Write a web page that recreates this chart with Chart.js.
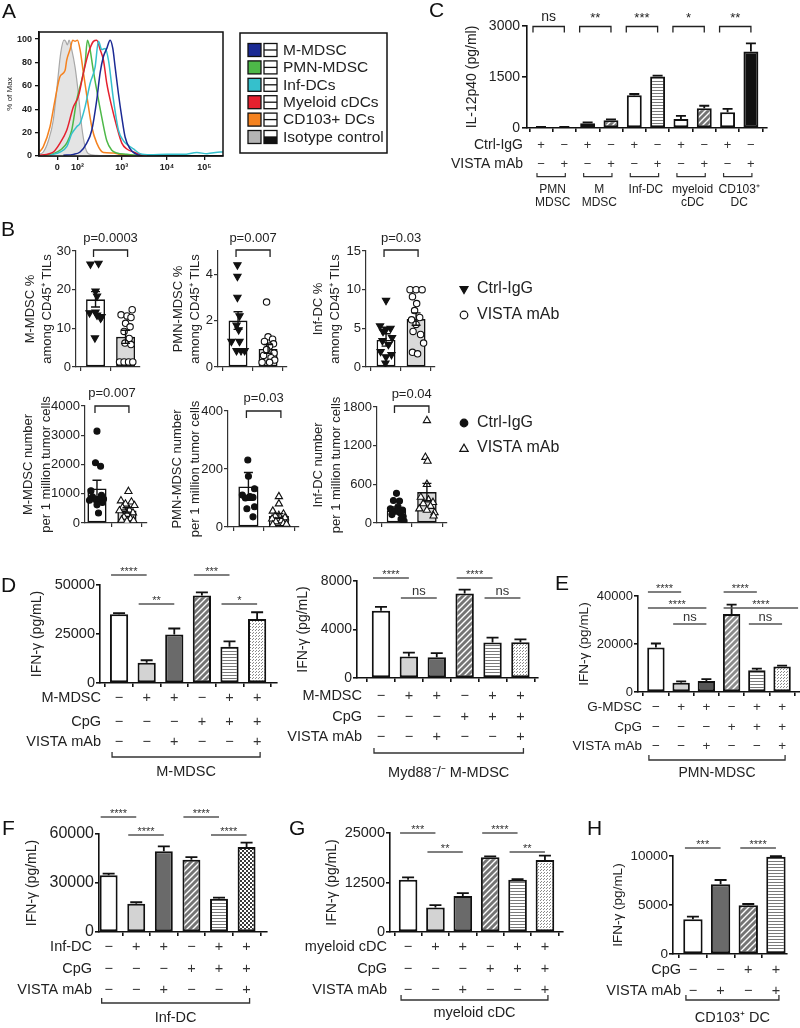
<!DOCTYPE html>
<html><head><meta charset="utf-8">
<script src="https://cdn.jsdelivr.net/npm/chart.js@4/dist/chart.umd.min.js"></script>
<style>
html,body{margin:0;padding:0;background:#fff;}
#wrap{position:relative;width:800px;height:1028px;overflow:hidden;background:#fff;}
#wrap canvas{position:absolute;left:0;top:0;}
</style></head><body><div id="wrap"></div>
<script>
// ================= DATA =================
// Panel A: histogram (channel units vs % of max)
const aTickVals = [55, 115, 248, 383, 495];
const aTickLabels = ['0', '10²', '10³', '10⁴', '10⁵'];
const aYTicks = [0, 20, 40, 60, 80, 100];
const isoX = [0,13,28,43,55,65,75,80,85,90,98,108,118,128,138,148,173,250];
const isoY = [1.4,3.4,13,31,62,88,99,98,95,99,91,76,53,25,8,2,0.5,0];
const cd103X = [0,13,33,48,63,78,83,93,101,108,115,123,133,145,158,173,193,223,243,273,303];
const cd103Y = [3,8,25,48,68,73,82,91,99,98,99,91,71,48,25,11,3,2.6,1.4,0.6,0];
const pmnX = [13,43,68,83,98,113,128,138,145,153,161,173,188,203,218,233,263,303];
const pmnY = [0.6,2,6,11,22,48,65,79,99,91,76,56,33,13,5,2.6,1.4,0.3];
const myeX = [0,23,43,63,83,103,118,133,148,163,173,183,193,203,218,233,248,263,283,303,323];
const myeY = [0.6,1.4,3.4,11,22,42,51,71,88,98,99,91,82,62,42,25,11,6,3.4,1.4,0.3];
const infX = [33,63,83,98,113,123,138,153,168,178,188,198,208,223,238,253,268,283,303,333,383,433,473,503,543,551];
const infY = [0.6,3.4,8,19,25,28,42,62,76,98,91,92,82,48,22,13,9,6,2,1.1,1.4,1.4,2.9,2,3.4,3.4];
const mmdX = [73,103,123,143,158,173,183,193,203,213,221,228,238,248,258,273,288,303];
const mmdY = [0.6,1.4,3.4,11,22,48,71,85,92,99,92,76,53,33,16,6,2,0.3];
const aLegNames = ['M-MDSC','PMN-MDSC','Inf-DCs','Myeloid cDCs','CD103+ DCs','Isotype control'];
const aLegColors = ['#1b2a94','#4db848','#35c0cc','#e5202e','#f5821f','#b4b4b4'];

// Panel C
const cYTicks = [0, 1500, 3000];
const cMeans = [25, 25, 140, 225, 960, 1515, 265, 580, 465, 2250];
const cErrTop = [35, 35, 165, 255, 1000, 1540, 355, 655, 565, 2490];
const cCtrl = ['+','−','+','−','+','−','+','−','+','−'];
const cVista = ['−','+','−','+','−','+','−','+','−','+'];
const cGroups = [['PMN','MDSC'],['M','MDSC'],['Inf-DC'],['myeloid','cDC'],['CD103⁺','DC']];
const cSig = ['ns','**','***','*','**'];

// Panel B
const bCtrlLabel = 'Ctrl-IgG', bVistaLabel = 'VISTA mAb';
const b1Means = [17.5, 7.8], b1Tops = [19.5, 9.5], b1YTicks = [0,10,20,30];
const b1Ctrl = [26.6,26.8,19.6,18.3,14.0,14.2,13.0,13.4,12.6,7.5];
const b1CtrlX = [-0.17,0.1,0.0,0.05,-0.2,0.0,0.2,0.05,0.17,-0.02];
const b1Vista = [14.8,13.5,13.2,12.8,11.3,10.4,9.2,7.4,6.2,5.8,1.3,1.3,1.3,1.3];
const b1VistaX = [0.22,-0.15,0.05,0.18,0.0,0.15,-0.05,0.12,-0.02,0.18,-0.2,-0.05,0.1,0.24];
const b2Means = [2.0, 0.78], b2Tops = [2.38, 0.97], b2YTicks = [0,2,4];
const b2Ctrl = [4.4,3.9,3.0,2.2,1.8,1.6,1.1,1.1,0.7,0.7,0.7];
const b2CtrlX = [-0.02,-0.02,-0.02,0.05,-0.05,0.02,-0.22,0.05,-0.05,0.1,0.22];
const b2Vista = [2.8,1.3,1.2,1.1,1.0,0.9,0.75,0.6,0.5,0.4,0.3,0.2,0.2];
const b2VistaX = [-0.05,0.0,0.15,-0.12,0.18,0.05,-0.05,0.2,-0.15,0.1,0.22,-0.2,0.05];
const b3Means = [3.5, 6.2], b3Tops = [4.3, 7.0], b3YTicks = [0,5,10,15];
const b3Ctrl = [8.6,5.3,5.0,4.9,4.6,3.8,3.4,2.9,2.0,1.6,1.3,0.5];
const b3CtrlX = [0.0,-0.2,0.15,0.0,-0.1,0.2,-0.12,0.08,-0.18,0.18,0.0,-0.02];
const b3Vista = [10,10,10,9.1,8.2,7.3,6.4,6.1,5.5,4.6,4.2,3.1,1.9,1.7];
const b3VistaX = [-0.2,0.0,0.2,-0.12,0.02,-0.05,0.12,-0.15,0.0,-0.1,0.15,0.25,-0.12,0.05];
const b4Means = [1180, 430], b4Tops = [1460, 520], b4YTicks = [0,1000,2000,3000,4000];
const b4Ctrl = [3140,2060,1940,1100,950,900,820,800,800,780,700,620,340];
const b4CtrlX = [0.0,-0.05,0.12,-0.2,0.15,-0.15,0.22,-0.05,0.08,-0.25,0.18,0.0,0.05];
const b4Vista = [1080,760,720,650,600,520,450,420,350,300,200,150,100,80,60];
const b4VistaX = [0.05,-0.2,0.15,-0.05,0.25,-0.15,0.08,-0.25,0.2,0.0,-0.1,0.12,-0.18,0.22,0.0];
const b5Means = [140, 38], b5Tops = [188, 46], b5YTicks = [0,200,400];
const b5Ctrl = [231,175,132,110,105,102,100,70,63,35];
const b5CtrlX = [-0.02,0.0,0.2,-0.2,0.05,0.15,-0.1,0.2,-0.05,0.15];
const b5Vista = [105,80,55,45,40,38,32,28,22,18,12,10,8];
const b5VistaX = [0.0,0.0,-0.2,0.15,0.0,-0.12,0.2,-0.22,0.08,-0.1,0.15,0.25,-0.2];
const b6Means = [195, 480], b6Tops = [250, 615], b6YTicks = [0,600,1200,1800];
const b6Ctrl = [460,350,340,250,220,200,190,160,130,100,60,30];
const b6CtrlX = [0.0,-0.1,0.1,0.05,-0.2,0.2,-0.05,0.12,-0.15,0.22,0.15,0.25];
const b6Vista = [1590,1020,960,600,400,360,320,300,260,220,200,160,110];
const b6VistaX = [0.0,-0.05,0.02,0.0,-0.2,0.05,0.2,-0.12,0.12,-0.25,0.0,0.25,0.22];
const bPvals = ['p=0.0003','p=0.007','p=0.03','p=0.007','p=0.03','p=0.04'];

// Panels D-H
const sixCpG = ['−','−','−','+','+','+'];
const sixCells = ['−','+','+','−','+','+'];
const sixVista = ['−','−','+','−','−','+'];
const dlYTicks = [0, 25000, 50000];
const dlMeans = [35100, 10300, 24800, 44700, 18500, 32700];
const dlErr = [35600, 11600, 27800, 46200, 21200, 36100];
const dlSig = ['****','**','***','*'];
const drYTicks = [0, 4000, 8000];
const drMeans = [5540, 1780, 1720, 6960, 2920, 2945];
const drErr = [5870, 2100, 2050, 7290, 3330, 3190];
const drSig = ['****','ns','****','ns'];
const eYTicks = [0, 20000, 40000];
const eMeans = [18540, 3900, 4600, 32500, 9060, 10600];
const eErr = [20200, 4400, 5400, 36400, 9760, 11000];
const eSig = ['****','****','ns','****','****','ns'];
const fYTicks = [0, 30000, 60000];
const fMeans = [34700, 17350, 49400, 44300, 20400, 52000];
const fErr = [35700, 18200, 52400, 45900, 21000, 54700];
const fSig = ['****','****','****','****'];
const gYTicks = [0, 12500, 25000];
const gMeans = [13200, 6200, 9100, 18900, 13200, 18200];
const gErr = [13800, 6800, 9800, 19100, 13350, 19300];
const gSig = ['***','**','****','**'];
const hYTicks = [0, 5000, 10000];
const hMeans = [3540, 7110, 4970, 9930];
const hErr = [3810, 7550, 5100, 9990];
const hCpG = ['−','−','+','+'];
const hVista = ['−','+','−','+'];
const hSig = ['***','****'];

// ================= HELPERS =================
const LS = "'Liberation Sans', Arial, Helvetica, sans-serif";
Chart.defaults.font.family = LS;
function makeCanvas() {
  const c = document.createElement('canvas');
  c.width = 800; c.height = 1028;
  c.style.width = '800px'; c.style.height = '1028px';
  document.getElementById('wrap').appendChild(c);
  return c;
}
function T(ctx, s, x, y, o) {
  o = o || {};
  ctx.save();
  ctx.font = (o.weight ? o.weight + ' ' : '') + (o.size || 14) + 'px ' + LS;
  ctx.fillStyle = o.color || '#222';
  ctx.textAlign = o.align || 'center';
  ctx.textBaseline = o.base || 'middle';
  ctx.fillText(s, x, y);
  ctx.restore();
}
function P(ctx, pts, o) {
  o = o || {};
  ctx.save();
  ctx.strokeStyle = o.color || '#222'; ctx.lineWidth = o.lw || 1.3;
  ctx.beginPath();
  pts.forEach((p, i) => i ? ctx.lineTo(p[0], p[1]) : ctx.moveTo(p[0], p[1]));
  ctx.stroke(); ctx.restore();
}
function makePattern(kind) {
  const t = document.createElement('canvas'); const g = t.getContext('2d');
  if (kind === 'hatch' || kind === 'hatchL') {
    t.width = t.height = 6;
    g.fillStyle = kind === 'hatch' ? '#747474' : '#8c8c8c'; g.fillRect(0, 0, 6, 6);
    g.strokeStyle = '#fff'; g.lineWidth = 1.4; g.beginPath();
    g.moveTo(-1, 7); g.lineTo(7, -1); g.moveTo(-4, 4); g.lineTo(4, -4); g.moveTo(2, 10); g.lineTo(10, 2);
    g.stroke();
  } else if (kind === 'hstripe') {
    t.width = 4; t.height = 3;
    g.fillStyle = '#fff'; g.fillRect(0, 0, 4, 3); g.fillStyle = '#7a7a7a'; g.fillRect(0, 0, 4, 1);
  } else if (kind === 'stipple') {
    t.width = t.height = 3;
    g.fillStyle = '#fff'; g.fillRect(0, 0, 3, 3); g.fillStyle = '#8a8a8a'; g.fillRect(0, 0, 1, 1); g.fillRect(1, 2, 1, 1);
  } else if (kind === 'checker') {
    t.width = t.height = 4;
    g.fillStyle = '#fff'; g.fillRect(0, 0, 4, 4); g.fillStyle = '#3a3a3a'; g.fillRect(0, 0, 2, 2); g.fillRect(2, 2, 2, 2);
  }
  return g.createPattern(t, 'repeat');
}
const WHITE = '#ffffff', LGRAY = '#d3d3d3', DGRAY = '#6a6a6a';
const HATCH = makePattern('hatch'), HATCHL = makePattern('hatchL'), HSTR = makePattern('hstripe');
const STIP = makePattern('stipple'), CHECK = makePattern('checker');

function mark(ctx, kind, x, y, r, filled) {
  ctx.save(); ctx.beginPath();
  if (kind === 'circle') ctx.arc(x, y, r, 0, Math.PI * 2);
  else if (kind === 'down') { ctx.moveTo(x - r * 0.87, y - r * 0.5); ctx.lineTo(x + r * 0.87, y - r * 0.5); ctx.lineTo(x, y + r); ctx.closePath(); }
  else { ctx.moveTo(x - r * 0.87, y + r * 0.5); ctx.lineTo(x + r * 0.87, y + r * 0.5); ctx.lineTo(x, y - r); ctx.closePath(); }
  ctx.fillStyle = filled ? '#111' : '#fff'; ctx.fill();
  ctx.strokeStyle = '#111'; ctx.lineWidth = 1.2; ctx.stroke(); ctx.restore();
}

function extras(ch, s) {
  const ctx = ch.ctx, X = ch.scales.x, Y = ch.scales.y;
  const cx = i => X.getPixelForValue(i);
  // error bars
  ctx.save(); ctx.strokeStyle = '#111'; ctx.lineWidth = s.errW || 1.8;
  s.means.forEach((m, i) => {
    const x = cx(i), yt = Y.getPixelForValue(s.tops[i]);
    const yb = Y.getPixelForValue(s.both ? 2 * m - s.tops[i] : m);
    ctx.beginPath(); ctx.moveTo(x, yb); ctx.lineTo(x, yt);
    ctx.moveTo(x - s.cap, yt); ctx.lineTo(x + s.cap, yt);
    if (s.both) { ctx.moveTo(x - s.cap, yb); ctx.lineTo(x + s.cap, yb); }
    ctx.stroke();
  });
  ctx.restore();
  // condition rows
  if (s.conds) {
    const c = s.conds;
    c.rows.forEach((row, r) => {
      const y = c.ys[r];
      T(ctx, row[0], c.labelRight, y, {size: c.size, align: 'right'});
      row[1].forEach((sg, i) => T(ctx, sg, cx(i), y, {size: c.signSize || c.size, color: '#333'}));
    });
  }
  // group bracket
  if (s.group) {
    const g = s.group, n = s.means.length;
    const x1 = cx(0) - 7, x2 = cx(n - 1) + 3;
    P(ctx, [[x1, g.y - 5], [x1, g.y], [x2, g.y], [x2, g.y - 5]], {lw: 1.3, color: '#333'});
    T(ctx, g.label, (x1 + x2) / 2, g.labelY, {size: g.size || 14});
  }
  // significance lines
  if (s.sig) {
    s.sig.pairs.forEach((pr, k) => {
      const x1 = cx(pr[0]) - 8, x2 = cx(pr[1]) + (s.sig.ext ? s.sig.ext[k] : 0);
      const y = s.sig.ys[k];
      P(ctx, [[x1, y], [x2, y]], {lw: 1.3, color: '#555'});
      const lab = s.sig.labels[k];
      if (lab === 'ns') T(ctx, 'ns', (x1 + x2) / 2, y - 7, {size: 13, color: '#333'});
      else T(ctx, lab, (x1 + x2) / 2, y - 0.5, {size: 11, base: 'alphabetic', color: '#333'});
    });
  }
  // p-value bracket
  if (s.pval) {
    const x1 = cx(0) - 2, x2 = cx(1) + 2, y = s.pval.y;
    P(ctx, [[x1, y + 7], [x1, y], [x2, y], [x2, y + 7]], {lw: 1.3, color: '#222'});
    T(ctx, s.pval.t, (x1 + x2) / 2, s.pval.ty, {size: 13});
  }
  if (s.custom) s.custom(ch, cx);
}

function barChart(s) {
  const tsz = s.titleSize || 14, lhMul = s.titleLH || 1.25;
  const lh = tsz * lhMul;
  const padL = s.titleX - lh / 2;
  const xH = 4;
  const axisC = s.axisColor || '#111', axisW = s.axisWidth || 1.6;
  const datasets = [];
  (s.points || []).forEach(p => datasets.push({
    type: 'scatter',
    data: p.vals.map((v, k) => ({x: p.group + p.offs[k], y: v})),
    pointStyle: p.style, pointRotation: p.rot || 0, pointRadius: p.r,
    pointBackgroundColor: p.fill, pointBorderColor: '#111', pointBorderWidth: 1.1, showLine: false
  }));
  datasets.push({
    type: 'bar', data: s.means.map((v, i) => ({x: i, y: v})),
    backgroundColor: s.fills, borderColor: '#111', borderWidth: s.barBorder || 2,
    borderSkipped: false, barPercentage: s.barPct, categoryPercentage: 1
  });
  const cats = s.means.map((_, i) => i);
  return new Chart(makeCanvas(), {
    type: 'bar',
    data: {datasets},
    options: {
      responsive: false, animation: false, devicePixelRatio: 1,
      layout: {padding: {left: padL, top: s.area.T, right: 800 - s.area.R, bottom: 1028 - s.area.B - xH}},
      plugins: {legend: {display: false}, tooltip: {enabled: false}},
      scales: {
        x: {type: 'linear', min: s.xmin, max: s.xmax, offset: false,
          afterBuildTicks: sc => { sc.ticks = cats.map(v => ({value: v})); },
          afterFit: sc => { sc.height = xH; },
          ticks: {display: false},
          grid: {display: true, drawOnChartArea: false, drawTicks: true, tickLength: xH, color: axisC, lineWidth: axisW},
          border: {display: true, color: axisC, width: axisW}},
        y: {type: 'linear', min: 0, max: s.yMax,
          afterBuildTicks: sc => { sc.ticks = s.yTicks.map(v => ({value: v})); },
          afterFit: sc => { sc.width = s.area.L - padL; },
          ticks: {font: {family: LS, size: s.tickSize}, color: '#222', padding: s.tickPad || 1, callback: v => String(v)},
          grid: {display: true, drawOnChartArea: false, drawTicks: true, tickLength: s.yTickLen || 4, color: axisC, lineWidth: axisW},
          border: {display: true, color: axisC, width: axisW},
          title: {display: true, text: s.title, font: {family: LS, size: tsz, lineHeight: lhMul}, color: '#222', padding: 0}}
      }
    },
    plugins: [{id: 'extras', afterDraw: ch => extras(ch, s)}]
  });
}

// ================= PANEL A =================
function lineDS(xs, ys, color, extra) {
  return Object.assign({
    data: xs.map((x, i) => ({x, y: ys[i]})), borderColor: color, borderWidth: 1.5,
    pointRadius: 0, fill: false, cubicInterpolationMode: 'monotone'
  }, extra || {});
}
(function () {
  const area = {L: 39, R: 223, T: 32, B: 156};
  const lh = 10, padL = 10 - lh / 2, xH = 20;
  new Chart(makeCanvas(), {
    type: 'line',
    data: {datasets: [
      lineDS(mmdX, mmdY, aLegColors[0]),
      lineDS(infX, infY, aLegColors[2]),
      lineDS(myeX, myeY, aLegColors[3]),
      lineDS(pmnX, pmnY, aLegColors[1]),
      lineDS(cd103X, cd103Y, aLegColors[4]),
      lineDS(isoX, isoY, '#a8a8a8', {fill: 'origin', backgroundColor: '#e4e4e4', borderWidth: 1.2})
    ]},
    options: {
      responsive: false, animation: false, devicePixelRatio: 1,
      layout: {padding: {left: padL, top: area.T, right: 800 - area.R, bottom: 1028 - area.B - xH}},
      plugins: {legend: {display: false}, tooltip: {enabled: false}},
      scales: {
        x: {type: 'linear', min: 0, max: 551,
          afterBuildTicks: sc => { sc.ticks = aTickVals.map(v => ({value: v})); },
          afterFit: sc => { sc.height = xH; },
          ticks: {autoSkip: false, maxRotation: 0, minRotation: 0, padding: 2, color: '#222',
            font: {family: LS, size: 9, weight: 'bold'}, callback: (v, i) => aTickLabels[i]},
          grid: {display: true, drawOnChartArea: false, drawTicks: true, tickLength: 4, color: '#111', lineWidth: 1.3},
          border: {display: true, color: '#111', width: 1.5}},
        y: {type: 'linear', min: 0, max: 106,
          afterBuildTicks: sc => { sc.ticks = aYTicks.map(v => ({value: v})); },
          afterFit: sc => { sc.width = area.L - padL; },
          ticks: {padding: 3, color: '#222', font: {family: LS, size: 9, weight: 'bold'}, callback: v => String(v)},
          grid: {display: true, drawOnChartArea: false, drawTicks: true, tickLength: 4, color: '#111', lineWidth: 1.3},
          border: {display: true, color: '#111', width: 1.5},
          title: {display: true, text: '% of Max', font: {family: LS, size: 8, lineHeight: 1.25}, color: '#222', padding: 0}}
      }
    },
    plugins: [{id: 'aExtras', afterDraw: ch => {
      const ctx = ch.ctx, a = ch.chartArea;
      ctx.save(); ctx.strokeStyle = '#111'; ctx.lineWidth = 1.5;
      ctx.strokeRect(a.left, a.top, a.right - a.left, a.bottom - a.top);
      // legend box
      ctx.strokeRect(240, 33, 147, 120);
      aLegNames.forEach((nm, i) => {
        const y = 50 + i * 17.4;
        ctx.fillStyle = aLegColors[i]; ctx.fillRect(248, y - 6.5, 13, 13);
        ctx.strokeStyle = '#111'; ctx.lineWidth = 1.3; ctx.strokeRect(248, y - 6.5, 13, 13);
        ctx.fillStyle = '#fff'; ctx.fillRect(264, y - 6.5, 13, 13);
        if (i === aLegNames.length - 1) { ctx.fillStyle = '#111'; ctx.fillRect(264, y, 13, 6.5); }
        ctx.strokeRect(264, y - 6.5, 13, 13);
        ctx.beginPath(); ctx.moveTo(264, y); ctx.lineTo(277, y); ctx.stroke();
        T(ctx, nm, 283, y + 0.5, {size: 15.5, align: 'left'});
      });
      ctx.restore();
      // panel letters
      [['A', 2, 18], ['B', 1, 236], ['C', 429, 17], ['D', 1, 592], ['E', 555, 590], ['F', 2, 835], ['G', 289, 835], ['H', 587, 835]]
        .forEach(l => T(ctx, l[0], l[1], l[2], {size: 21, align: 'left', base: 'alphabetic', color: '#111'}));
    }}]
  });
})();

// ================= PANEL C =================
barChart({
  area: {L: 527, R: 767, T: 26, B: 128}, titleX: 472, title: 'IL-12p40 (pg/ml)', titleSize: 14,
  xmin: -0.6, xmax: 9.69, yMax: 3000, yTicks: cYTicks, tickSize: 14, yTickLen: 5, tickPad: 2,
  means: cMeans, tops: cErrTop, barPct: 0.64, cap: 5, errW: 1.8,
  fills: [WHITE, WHITE, WHITE, HATCH, WHITE, HSTR, WHITE, HATCH, WHITE, '#111'],
  conds: {rows: [['Ctrl-IgG', cCtrl], ['VISTA mAb', cVista]], ys: [145, 164], labelRight: 523, size: 14, signSize: 13},
  custom: (ch, cx) => {
    const ctx = ch.ctx;
    cGroups.forEach((g, k) => {
      const a = cx(2 * k), b = cx(2 * k + 1);
      P(ctx, [[a - 8, 32.5], [a - 8, 26.5], [b, 26.5], [b, 32.5]], {lw: 1.3, color: '#222'});
      const m = (a - 8 + b) / 2;
      if (cSig[k] === 'ns') T(ctx, 'ns', m, 17.5, {size: 14});
      else T(ctx, cSig[k], m, 22, {size: 13, base: 'alphabetic'});
      P(ctx, [[a - 4, 173], [a - 4, 176.7], [b + 1, 176.7], [b + 1, 173]], {lw: 1.2, color: '#333'});
      const gm = (a + b) / 2;
      g.forEach((line, j) => T(ctx, line, gm, 190 + j * 12.5, {size: 12}));
    });
  }
});

// ================= PANEL B =================
function bPlot(o) {
  return barChart({
    area: o.area, titleX: o.titleX, title: o.title, titleSize: 13, titleLH: o.lh || 1.31,
    xmin: o.xmin, xmax: o.xmax, yMax: o.yMax, yTicks: o.yTicks, tickSize: 13, yTickLen: 4,
    means: o.means, tops: o.tops, fills: [WHITE, '#d9d9d9'], barPct: o.barPct || 0.63, barBorder: 1.6,
    cap: 4.5, errW: 1.4, both: true, axisColor: '#333', axisWidth: 1.2,
    points: o.points, pval: o.pval, custom: o.custom
  });
}
const downTri = (vals, offs) => ({group: 0, vals, offs, style: 'triangle', rot: 180, r: 4.2, fill: '#111'});
const openCirc = (vals, offs) => ({group: 1, vals, offs, style: 'circle', r: 3.2, fill: '#fff'});
const filledCirc = (vals, offs) => ({group: 0, vals, offs, style: 'circle', r: 3.0, fill: '#111'});
const openTri = (vals, offs) => ({group: 1, vals, offs, style: 'triangle', r: 4.2, fill: '#fff'});

bPlot({area: {L: 76, R: 140, T: 251, B: 367}, titleX: 30, title: ['M-MDSC %', 'among CD45⁺ TILs'],
  xmin: -0.65, xmax: 1.48, yMax: 30, yTicks: b1YTicks, means: b1Means, tops: b1Tops,
  points: [openCirc(b1Vista, b1VistaX), downTri(b1Ctrl, b1CtrlX)], pval: {t: bPvals[0], y: 250, ty: 238}});
bPlot({area: {L: 218, R: 287, T: 251, B: 367}, titleX: 178, title: ['PMN-MDSC %', 'among CD45⁺ TILs'],
  xmin: -0.667, xmax: 1.63, yMax: 5, yTicks: b2YTicks, means: b2Means, tops: b2Tops,
  points: [openCirc(b2Vista, b2VistaX), downTri(b2Ctrl, b2CtrlX)], pval: {t: bPvals[1], y: 250, ty: 238}});
bPlot({area: {L: 366, R: 435, T: 251, B: 367}, titleX: 318, title: ['Inf-DC %', 'among CD45⁺ TILs'],
  xmin: -0.667, xmax: 1.63, yMax: 15, yTicks: b3YTicks, means: b3Means, tops: b3Tops,
  points: [openCirc(b3Vista, b3VistaX), downTri(b3Ctrl, b3CtrlX)], pval: {t: bPvals[2], y: 250, ty: 238},
  custom: ch => {
    const ctx = ch.ctx;
    mark(ctx, 'down', 464, 289, 4.6, true); T(ctx, bCtrlLabel, 477, 289, {size: 16, align: 'left'});
    mark(ctx, 'circle', 464, 315, 3.8, false); T(ctx, bVistaLabel, 477, 315, {size: 16, align: 'left'});
  }});
bPlot({area: {L: 85, R: 147, T: 406, B: 523}, titleX: 28, title: ['M-MDSC number', 'per 1 million tumor cells'], lh: 1.38,
  xmin: -0.4, xmax: 1.67, yMax: 4000, yTicks: b4YTicks, means: b4Means, tops: b4Tops, barPct: 0.64,
  points: [openTri(b4Vista, b4VistaX), filledCirc(b4Ctrl, b4CtrlX)], pval: {t: bPvals[3], y: 406, ty: 393}});
bPlot({area: {L: 228, R: 299, T: 411, B: 527}, titleX: 177, title: ['PMN-MDSC number', 'per 1 million tumor cells'], lh: 1.38,
  xmin: -0.67, xmax: 1.66, yMax: 400, yTicks: b5YTicks, means: b5Means, tops: b5Tops, barPct: 0.66,
  points: [openTri(b5Vista, b5VistaX), filledCirc(b5Ctrl, b5CtrlX)], pval: {t: bPvals[4], y: 411, ty: 398}});
bPlot({area: {L: 377, R: 447, T: 407, B: 523}, titleX: 318, title: ['Inf-DC number', 'per 1 million tumor cells'], lh: 1.42,
  xmin: -0.64, xmax: 1.66, yMax: 1800, yTicks: b6YTicks, means: b6Means, tops: b6Tops, barPct: 0.64,
  points: [openTri(b6Vista, b6VistaX), filledCirc(b6Ctrl, b6CtrlX)], pval: {t: bPvals[5], y: 406, ty: 394},
  custom: ch => {
    const ctx = ch.ctx;
    mark(ctx, 'circle', 464, 423, 3.8, true); T(ctx, bCtrlLabel, 477, 423, {size: 16, align: 'left'});
    mark(ctx, 'up', 464, 449, 4.8, false); T(ctx, bVistaLabel, 477, 448, {size: 16, align: 'left'});
  }});

// ================= PANEL D =================
const fills6 = [WHITE, LGRAY, DGRAY, HATCH, HSTR, STIP];
barChart({
  area: {L: 100, R: 277, T: 585, B: 683}, titleX: 37, title: 'IFN-γ (pg/mL)',
  xmin: -0.69, xmax: 5.72, yMax: 50000, yTicks: dlYTicks, tickSize: 14.5,
  means: dlMeans, tops: dlErr, fills: fills6, barPct: 0.66, cap: 6,
  conds: {rows: [['M-MDSC', sixCells], ['CpG', sixCpG], ['VISTA mAb', sixVista]], ys: [698, 722, 742], labelRight: 101, size: 14.5},
  group: {label: 'M-MDSC', y: 757, labelY: 772, size: 14.5},
  sig: {pairs: [[0, 1], [1, 2], [3, 4], [4, 5]], labels: dlSig, ys: [575, 604, 575, 604]}
});
barChart({
  area: {L: 357, R: 538, T: 581, B: 678}, titleX: 303, title: 'IFN-γ (pg/mL)',
  xmin: -0.86, xmax: 5.63, yMax: 8000, yTicks: drYTicks, tickSize: 14,
  means: drMeans, tops: drErr, fills: fills6, barPct: 0.66, cap: 6,
  conds: {rows: [['M-MDSC', sixCells], ['CpG', sixCpG], ['VISTA mAb', sixVista]], ys: [696, 717, 737], labelRight: 362, size: 14.5},
  group: {label: 'Myd88⁻/⁻ M-MDSC', y: 753, labelY: 773, size: 14.5},
  sig: {pairs: [[0, 1], [1, 2], [3, 4], [4, 5]], labels: drSig, ys: [578, 598, 578, 598]}
});

// ================= PANEL E =================
barChart({
  area: {L: 638, R: 800, T: 596, B: 692}, titleX: 584, title: 'IFN-γ (pg/mL)', titleSize: 13.5,
  xmin: -0.71, xmax: 5.71, yMax: 40000, yTicks: eYTicks, tickSize: 13,
  means: eMeans, tops: eErr, fills: [WHITE, LGRAY, '#555555', HATCHL, HSTR, STIP], barPct: 0.69, cap: 5,
  conds: {rows: [['G-MDSC', sixCells], ['CpG', sixCpG], ['VISTA mAb', sixVista]], ys: [707, 727, 746], labelRight: 642, size: 13.5},
  group: {label: 'PMN-MDSC', y: 760, labelY: 773, size: 14},
  sig: {pairs: [[0, 1], [0, 2], [1, 2], [3, 4], [3, 5], [4, 5]], labels: eSig, ys: [592, 608, 624, 592, 608, 624], ext: [0, 0, 0, 0, 16, 0]}
});

// ================= PANEL F =================
barChart({
  area: {L: 99, R: 267, T: 834, B: 932}, titleX: 32, title: 'IFN-γ (pg/mL)',
  xmin: -0.35, xmax: 5.74, yMax: 60000, yTicks: fYTicks, tickSize: 16,
  means: fMeans, tops: fErr, fills: [WHITE, LGRAY, DGRAY, HATCH, HSTR, CHECK], barPct: 0.65, cap: 6,
  conds: {rows: [['Inf-DC', sixCells], ['CpG', sixCpG], ['VISTA mAb', sixVista]], ys: [947, 969, 990], labelRight: 92, size: 14.5},
  group: {label: 'Inf-DC', y: 1003, labelY: 1018, size: 14.5},
  sig: {pairs: [[0, 1], [1, 2], [3, 4], [4, 5]], labels: fSig, ys: [817, 835, 817, 835]}
});

// ================= PANEL G =================
barChart({
  area: {L: 390, R: 563, T: 833, B: 932}, titleX: 332, title: 'IFN-γ (pg/mL)',
  xmin: -0.66, xmax: 5.66, yMax: 25000, yTicks: gYTicks, tickSize: 14.5,
  means: gMeans, tops: gErr, fills: fills6, barPct: 0.68, cap: 6,
  conds: {rows: [['myeloid cDC', sixCells], ['CpG', sixCpG], ['VISTA mAb', sixVista]], ys: [947, 969, 990], labelRight: 387, size: 14.5},
  group: {label: 'myeloid cDC', y: 1000, labelY: 1013, size: 14.5},
  sig: {pairs: [[0, 1], [1, 2], [3, 4], [4, 5]], labels: gSig, ys: [833, 852, 833, 852]}
});

// ================= PANEL H =================
barChart({
  area: {L: 673, R: 787, T: 856, B: 954}, titleX: 618, title: 'IFN-γ (pg/mL)', titleSize: 13.5,
  xmin: -0.72, xmax: 3.4, yMax: 10000, yTicks: hYTicks, tickSize: 13.5,
  means: hMeans, tops: hErr, fills: [WHITE, DGRAY, HATCH, HSTR], barPct: 0.7, cap: 6,
  conds: {rows: [['CpG', hCpG], ['VISTA mAb', hVista]], ys: [970, 991], labelRight: 681, size: 14.5},
  group: {label: 'CD103⁺ DC', y: 1000, labelY: 1018, size: 14.5},
  sig: {pairs: [[0, 1], [2, 3]], labels: hSig, ys: [848, 848]}
});
</script></body></html>
